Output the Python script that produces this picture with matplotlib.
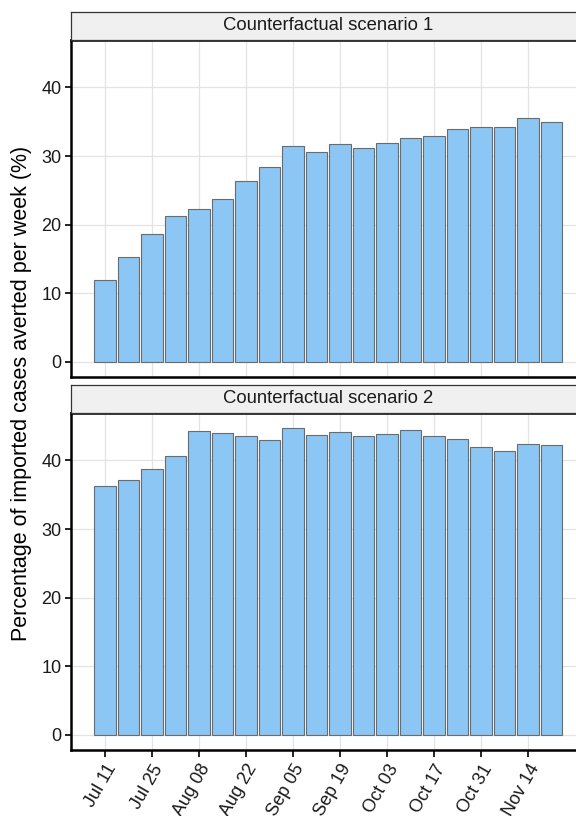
import matplotlib
matplotlib.use("Agg")
import matplotlib.pyplot as plt
import matplotlib.dates as mdates
import numpy as np
import pandas as pd

plt.rcParams['font.family'] = ['Liberation Sans', 'DejaVu Sans']

# weekly data
weeks = ['2021-07-11', '2021-07-18', '2021-07-25', '2021-08-01', '2021-08-08',
         '2021-08-15', '2021-08-22', '2021-08-29', '2021-09-05', '2021-09-12',
         '2021-09-19', '2021-09-26', '2021-10-03', '2021-10-10', '2021-10-17',
         '2021-10-24', '2021-10-31', '2021-11-07', '2021-11-14', '2021-11-21']
scenario1 = [12.0, 15.3, 18.7, 21.3, 22.3, 23.8, 26.3, 28.4, 31.5, 30.6,
             31.7, 31.1, 31.9, 32.7, 32.9, 33.9, 34.3, 34.3, 35.6, 34.9]
scenario2 = [36.2, 37.2, 38.7, 40.6, 44.3, 44.0, 43.5, 42.9, 44.7, 43.7,
             44.1, 43.5, 43.9, 44.5, 43.6, 43.1, 41.9, 41.3, 42.4, 42.2]
panel_titles = ['Counterfactual scenario 1', 'Counterfactual scenario 2']
tick_dates = ['2021-07-11', '2021-07-25', '2021-08-08', '2021-08-22', '2021-09-05',
              '2021-09-19', '2021-10-03', '2021-10-17', '2021-10-31', '2021-11-14']
tick_labels = ['Jul 11', 'Jul 25', 'Aug 08', 'Aug 22', 'Sep 05',
               'Sep 19', 'Oct 03', 'Oct 17', 'Oct 31', 'Nov 14']

x = mdates.date2num(pd.to_datetime(weeks))
xt = mdates.date2num(pd.to_datetime(tick_dates))
bw = 0.9 * 7

# ggplot-like expansion
lo, hi = x.min() - bw / 2, x.max() + bw / 2
xpad = 0.05 * (hi - lo)
ymax = max(max(scenario1), max(scenario2))
ylim = (-0.05 * ymax, ymax * 1.05)

W, H = 576, 816
fig = plt.figure(figsize=(W / 100, H / 100), dpi=100)

def fx(px):
    return px / W

def fy(py):
    return 1 - py / H

left, right = 71, 585.4
panels = [(39.8, 377.3, 12.0), (412.8, 750.3, 385.0)]

for i, (vals, title) in enumerate(zip([scenario1, scenario2], panel_titles)):
    top, bot, stop = panels[i]
    ax = fig.add_axes([fx(left), fy(bot), fx(right - left), (bot - top) / H])
    ax.bar(x, vals, width=bw, color='#8BC6F5', edgecolor='#6b6b6b', linewidth=0.8, zorder=3)
    ax.set_xlim(lo - xpad, hi + xpad)
    ax.set_ylim(*ylim)
    ax.set_yticks([0, 10, 20, 30, 40])
    ax.set_xticks(xt)
    ax.grid(True, color='#E3E3E3', linewidth=0.9, zorder=0)
    ax.set_axisbelow(True)
    for s in ax.spines.values():
        s.set_color('black')
        s.set_linewidth(1.8)
    ax.tick_params(axis='y', length=4, width=1.2, color='black', labelsize=13,
                   labelcolor='#1a1a1a', pad=3)
    if i == 0:
        ax.tick_params(axis='x', length=0, labelbottom=False)
    else:
        ax.tick_params(axis='x', length=5, width=1.2, color='black', pad=3)
        ax.set_xticklabels(tick_labels, rotation=60, ha='right', va='top',
                           rotation_mode='anchor', fontsize=13, color='#1a1a1a')

    # facet strip
    sax = fig.add_axes([fx(left), fy(top), fx(right - left), (top - stop) / H])
    sax.set_facecolor('#F0F0F0')
    sax.set_xticks([])
    sax.set_yticks([])
    for s in sax.spines.values():
        s.set_color('#333333')
        s.set_linewidth(0.9)
    sax.text(0.5, 0.5, title, ha='center', va='center', fontsize=13.3,
             color='#1a1a1a', transform=sax.transAxes)

fig.text(fx(22), fy(393), 'Percentage of imported cases averted per week (%)',
         rotation=90, ha='center', va='center', fontsize=15.5, color='black')

fig.savefig('out.png', dpi=100)
